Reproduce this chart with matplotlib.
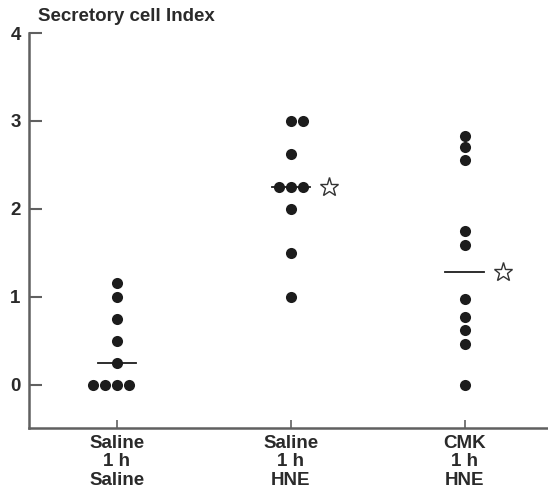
import numpy as np
import matplotlib.pyplot as plt

# Secretory cell index per animal
group_labels = ["Saline\n1 h\nSaline", "Saline\n1 h\nHNE", "CMK\n1 h\nHNE"]
saline_saline = [0, 0, 0, 0, 0.25, 0.5, 0.75, 1.0, 1.16]
saline_hne = [1.0, 1.5, 2.0, 2.25, 2.25, 2.25, 2.63, 3.0, 3.0]
cmk_hne = [0, 0.46, 0.62, 0.77, 0.98, 1.59, 1.75, 2.56, 2.70, 2.83]
significant = [False, True, True]

groups = [saline_saline, saline_hne, cmk_hne]
positions = [1, 2, 3]

ink = '#1c1c1c'
axis_col = '#606060'
plt.rcParams['font.family'] = ['Liberation Sans', 'DejaVu Sans']

fig = plt.figure(figsize=(5.48, 4.93), dpi=100)
ax = fig.add_axes([29 / 548, 65 / 493, 519 / 548, 395 / 493])

step = 0.069  # horizontal spacing for tied values
for pos, vals, sig in zip(positions, groups, significant):
    vals = np.array(vals)
    xs = []
    ys = []
    for v in np.unique(vals):
        n = int(np.sum(vals == v))
        start = -(n // 2) if n > 2 else 0
        for k in range(n):
            xs.append(pos + (start + k) * step)
            ys.append(v)
    ax.plot(xs, ys, 'o', color=ink, markersize=8, markeredgewidth=0, zorder=3)
    med = np.median(vals)
    ax.plot([pos - 0.11, pos + 0.11], [med, med], color=ink, lw=1.3, zorder=2)
    if sig:
        ax.plot(pos + 0.22, med, marker='*', markersize=14, markerfacecolor='white',
                markeredgecolor='#333333', markeredgewidth=1.0, linestyle='none')

ax.set_xlim(0.494, 3.48)
ax.set_ylim(-0.49, 4.0)
ax.set_yticks([0, 1, 2, 3, 4])
ax.set_xticks(positions)
ax.set_xticklabels(group_labels, fontsize=13.5, fontweight='bold', color='#2a2a2a',
                   linespacing=1.1)
ax.tick_params(axis='y', direction='in', length=9, width=1.5, color=axis_col,
               labelsize=13.5, labelcolor='#2a2a2a', pad=6)
ax.tick_params(axis='x', direction='in', length=6, width=1.2, color=axis_col, pad=5)
for lab in ax.get_yticklabels():
    lab.set_fontweight('bold')

for side in ['top', 'right']:
    ax.spines[side].set_visible(False)
ax.spines['left'].set_color(axis_col)
ax.spines['bottom'].set_color(axis_col)
ax.spines['left'].set_linewidth(1.8)
ax.spines['bottom'].set_linewidth(1.8)

fig.text(38 / 548, 1 - 21 / 493, 'Secretory cell Index', fontsize=13.5,
         fontweight='bold', color='#2a2a2a', va='baseline', ha='left')

fig.savefig('out.png', dpi=100)
